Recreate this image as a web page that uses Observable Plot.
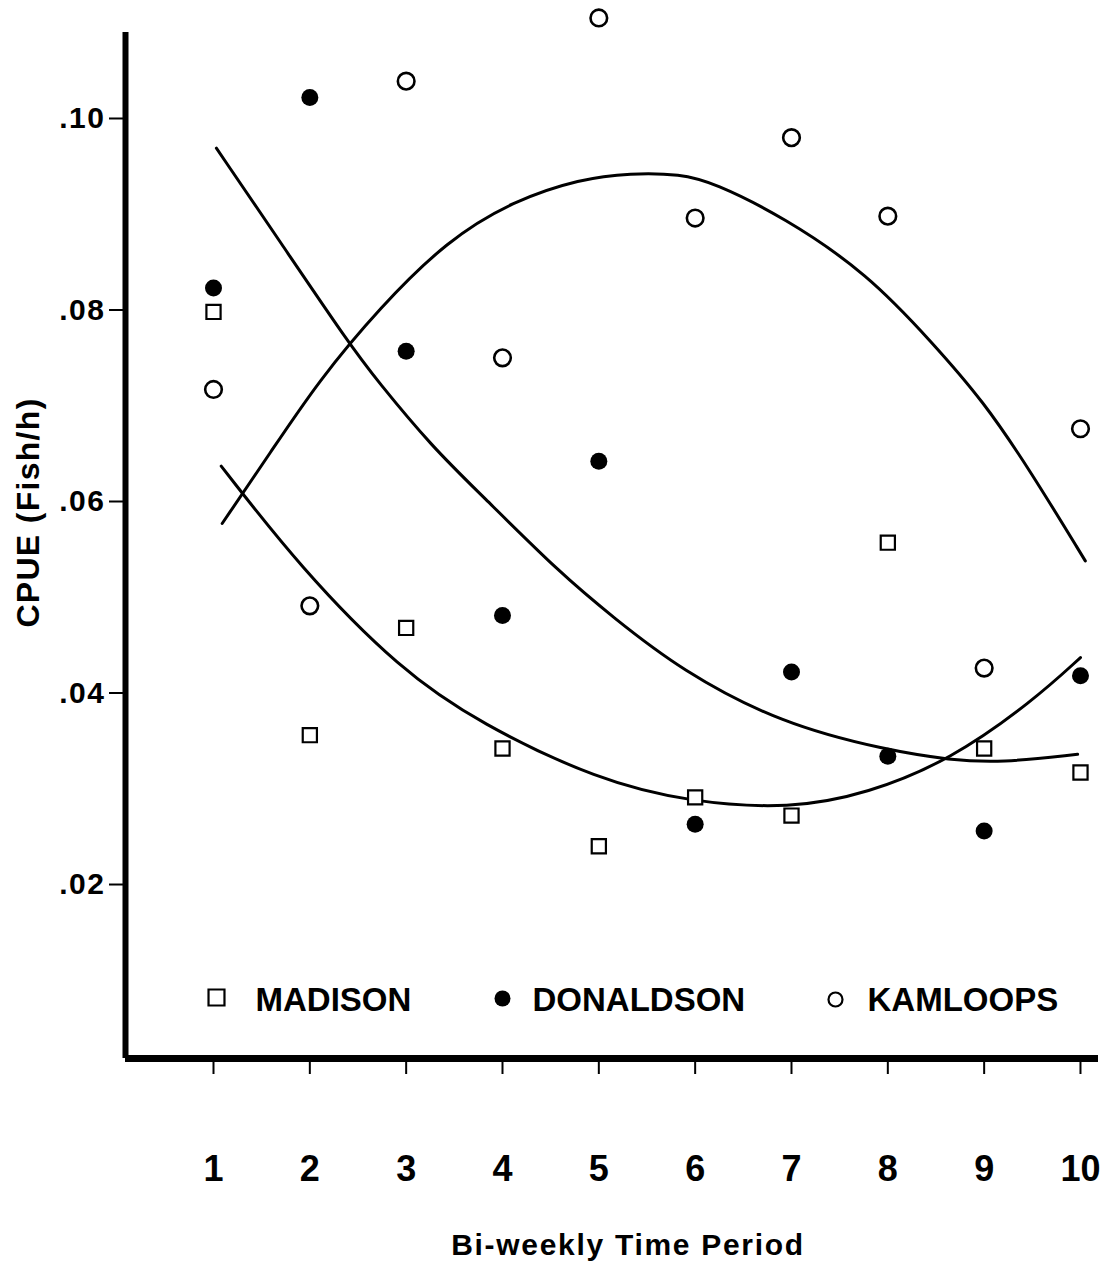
<!DOCTYPE html>
<html><head><meta charset="utf-8">
<script src="https://cdn.jsdelivr.net/npm/d3@7"></script>
<script src="https://cdn.jsdelivr.net/npm/@observablehq/plot@0.6"></script>
<style>
body{margin:0;background:#fff}
svg text{font-weight:bold}
g[aria-label="y-axis tick label"] text{letter-spacing:1.5px}
</style>
</head><body><div id="chart"></div>
<script>
// Observations (CPUE, fish/h) by bi-weekly period
const periods = [1,2,3,4,5,6,7,8,9,10];
const madison   = [0.0798,0.0356,0.0468,0.0342,0.0240,0.0291,0.0272,0.0557,0.0342,0.0317];
const donaldson = [0.0823,0.1022,0.0757,0.0481,0.0642,0.0263,0.0422,0.0334,0.0256,0.0418];
const kamloops  = [0.0717,0.0491,0.1039,0.0750,0.1105,0.0896,0.0980,0.0898,0.0426,0.0676];

// Fitted curves
const madisonFitX = [1.08,1.90,2.94,3.77,4.99,5.95,6.99,7.79,8.65,9.51,10.0];
const madisonFitY = [0.0637,0.0531,0.0424,0.0368,0.0309,0.0286,0.0279,0.0295,0.0330,0.0392,0.0437];
const donaldsonFitX = [1.03,1.70,2.40,2.70,3.28,3.77,4.60,5.15,5.85,6.89,8.00,8.65,9.17,9.97];
const donaldsonFitY = [0.0969,0.0870,0.0766,0.0726,0.0656,0.0608,0.0525,0.0479,0.0424,0.0368,0.0340,0.0330,0.0327,0.0336];
const kamloopsFitX = [1.09,1.59,2.09,2.73,3.43,4.11,4.81,5.33,5.85,6.19,6.92,7.79,8.47,8.99,9.48,10.05];
const kamloopsFitY = [0.0577,0.0651,0.0726,0.0803,0.0873,0.0914,0.0937,0.0943,0.0942,0.0933,0.0897,0.0838,0.0765,0.0705,0.0632,0.0538];

const yTicks = [0.02,0.04,0.06,0.08,0.10];
const yTickLabels = [".02",".04",".06",".08",".10"];
const seriesNames = ["MADISON","DONALDSON","KAMLOOPS"];
const xTitle = "Bi-weekly Time Period";
const yTitle = "CPUE (Fish/h)";

const xDomain = [0.0865, 10.187];
const yDomain = [0.00183, 0.10898];

const pts = (vals) => periods.map((p, i) => ({p, v: vals[i]}));
const fit = (xs, ys) => xs.map((x, i) => ({x, y: ys[i]}));

const chart = Plot.plot({
  width: 1102, height: 1269,
  marginLeft: 125, marginRight: 4, marginTop: 32, marginBottom: 211,
  style: {fontFamily: "Liberation Sans, Arial, sans-serif", background: "#fff", overflow: "visible"},
  x: {domain: xDomain},
  y: {domain: yDomain},
  marks: [
    Plot.line(fit(madisonFitX, madisonFitY), {x: "x", y: "y", curve: "basis", stroke: "black", strokeWidth: 3}),
    Plot.line(fit(donaldsonFitX, donaldsonFitY), {x: "x", y: "y", curve: "basis", stroke: "black", strokeWidth: 3}),
    Plot.line(fit(kamloopsFitX, kamloopsFitY), {x: "x", y: "y", curve: "basis", stroke: "black", strokeWidth: 3}),
    Plot.dot(pts(madison), {x: "p", y: "v", symbol: "square", r: 8, stroke: "black", strokeWidth: 2.2, fill: "white"}),
    Plot.dot(pts(donaldson), {x: "p", y: "v", symbol: "circle", r: 8.5, fill: "black", stroke: "none"}),
    Plot.dot(pts(kamloops), {x: "p", y: "v", symbol: "circle", r: 8.3, stroke: "black", strokeWidth: 2.6, fill: "white"}),
    Plot.axisY({ticks: yTicks, tickFormat: d => yTickLabels[yTicks.indexOf(d)], tickSize: 16, tickPadding: 4, fontSize: 30, strokeWidth: 2, label: null}),
    Plot.axisX({ticks: periods, tickSize: 16, tickPadding: 81, fontSize: 36, strokeWidth: 2, label: null}),
    Plot.ruleX([xDomain[0]], {stroke: "black", strokeWidth: 6}),
    Plot.ruleY([yDomain[0]], {stroke: "black", strokeWidth: 7}),
    // legend
    Plot.dot([seriesNames[0]], {frameAnchor: "bottom-left", dx: 91, dy: -61, symbol: "square", r: 9, stroke: "black", strokeWidth: 2.2, fill: "white"}),
    Plot.text([seriesNames[0]], {frameAnchor: "bottom-left", dx: 130, dy: -58, text: d => d, textAnchor: "start", lineAnchor: "middle", fontSize: 33, fill: "black"}),
    Plot.dot([seriesNames[1]], {frameAnchor: "bottom-left", dx: 377, dy: -60, symbol: "circle", r: 8, fill: "black"}),
    Plot.text([seriesNames[1]], {frameAnchor: "bottom-left", dx: 407, dy: -58, text: d => d, textAnchor: "start", lineAnchor: "middle", fontSize: 33, fill: "black"}),
    Plot.dot([seriesNames[2]], {frameAnchor: "bottom-left", dx: 710, dy: -59, symbol: "circle", r: 7, stroke: "black", strokeWidth: 2.2, fill: "white"}),
    Plot.text([seriesNames[2]], {frameAnchor: "bottom-left", dx: 742, dy: -58, text: d => d, textAnchor: "start", lineAnchor: "middle", fontSize: 33, fill: "black"}),
    // axis titles
    Plot.text([xTitle], {frameAnchor: "bottom", dx: 16, dy: 187, text: d => d, textAnchor: "middle", lineAnchor: "middle", fontSize: 30, fill: "black"}),
    Plot.text([yTitle], {frameAnchor: "left", dx: -97, dy: -33, text: d => d, rotate: -90, textAnchor: "middle", lineAnchor: "middle", fontSize: 32, fill: "black"})
  ]
});
d3.select(chart).selectAll("text").filter(function() { return this.textContent === xTitle; }).style("letter-spacing", "1.7px");
d3.select(chart).selectAll("text").filter(function() { return this.textContent === yTitle; }).style("letter-spacing", "1.3px");
document.getElementById("chart").appendChild(chart);
</script>
</body></html>
